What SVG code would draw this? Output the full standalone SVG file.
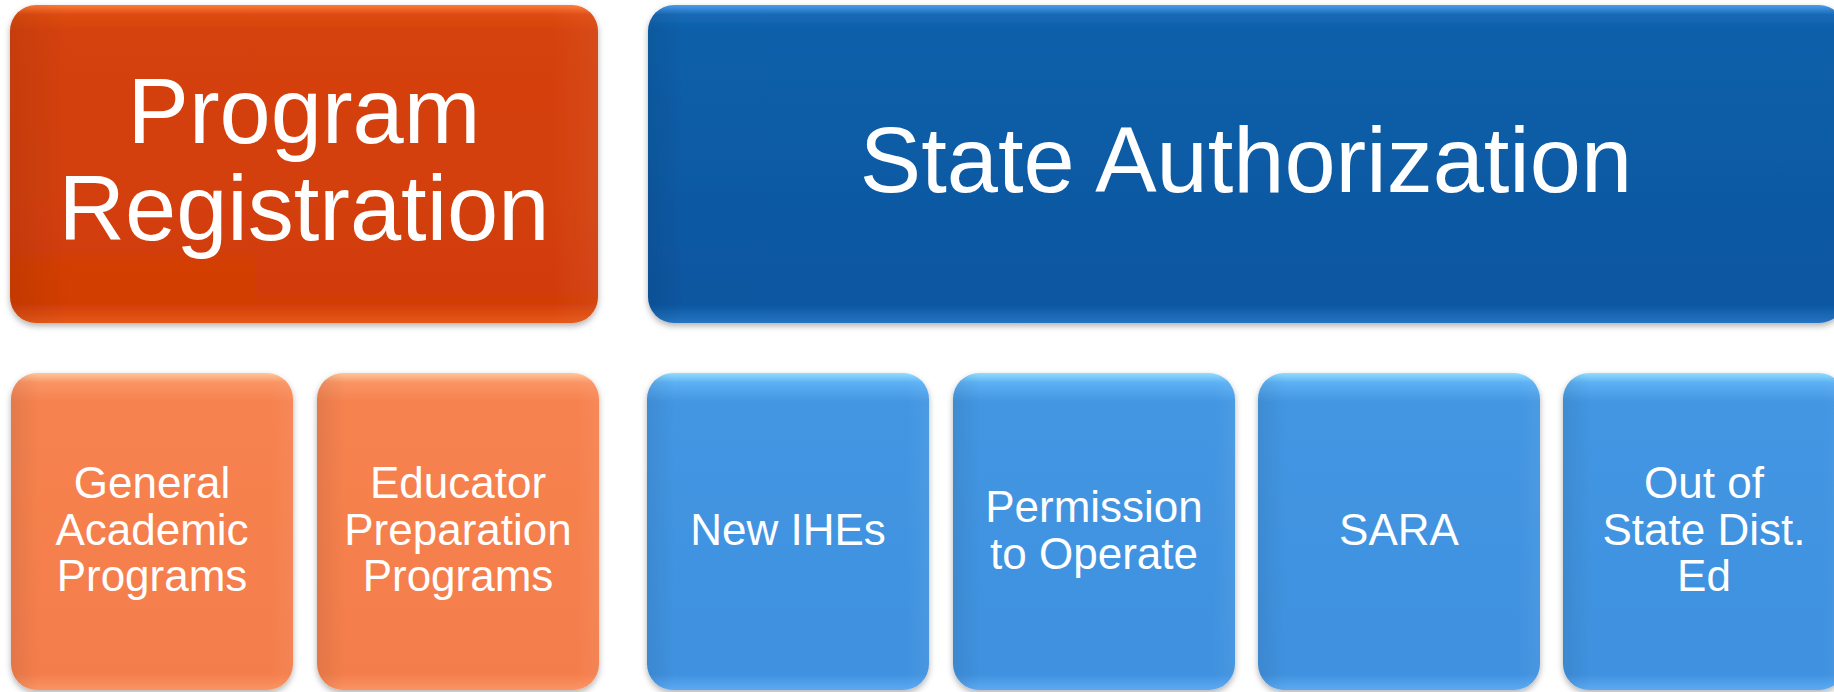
<svg xmlns="http://www.w3.org/2000/svg" width="1834" height="692" viewBox="0 0 1834 692">
  <defs>
    <linearGradient id="gOrangeDark" x1="0" y1="0" x2="0" y2="1">
      <stop offset="0" stop-color="#FF7A36"/>
      <stop offset="0.03" stop-color="#DE4B12"/>
      <stop offset="0.08" stop-color="#D5420B"/>
      <stop offset="0.94" stop-color="#D23D06"/>
      <stop offset="1" stop-color="#E65818"/>
    </linearGradient>
    <linearGradient id="gBlueDark" x1="0" y1="0" x2="0" y2="1">
      <stop offset="0" stop-color="#4C9EEC"/>
      <stop offset="0.03" stop-color="#1769B6"/>
      <stop offset="0.08" stop-color="#0C5FA9"/>
      <stop offset="0.94" stop-color="#0856A0"/>
      <stop offset="1" stop-color="#2774C2"/>
    </linearGradient>
    <linearGradient id="gOrangeLight" x1="0" y1="0" x2="0" y2="1">
      <stop offset="0" stop-color="#FFC89A"/>
      <stop offset="0.03" stop-color="#FA9464"/>
      <stop offset="0.09" stop-color="#F6824F"/>
      <stop offset="0.95" stop-color="#F47E4C"/>
      <stop offset="1" stop-color="#FA9464"/>
    </linearGradient>
    <linearGradient id="gBlueLight" x1="0" y1="0" x2="0" y2="1">
      <stop offset="0" stop-color="#92DEFF"/>
      <stop offset="0.03" stop-color="#5CB0F4"/>
      <stop offset="0.09" stop-color="#4396E2"/>
      <stop offset="0.95" stop-color="#3F91DF"/>
      <stop offset="1" stop-color="#5CAAF2"/>
    </linearGradient>
    <linearGradient id="gSide" x1="0" y1="0" x2="1" y2="0">
      <stop offset="0" stop-color="#000000" stop-opacity="0.07"/>
      <stop offset="0.1" stop-color="#000000" stop-opacity="0"/>
      <stop offset="0.92" stop-color="#FFFFFF" stop-opacity="0"/>
      <stop offset="1" stop-color="#FFFFFF" stop-opacity="0.05"/>
    </linearGradient>
    <linearGradient id="gSideWide" x1="0" y1="0" x2="1" y2="0">
      <stop offset="0" stop-color="#000000" stop-opacity="0.07"/>
      <stop offset="0.03" stop-color="#000000" stop-opacity="0"/>
      <stop offset="1" stop-color="#000000" stop-opacity="0"/>
    </linearGradient>
    <filter id="shadow" x="-5%" y="-5%" width="110%" height="115%">
      <feDropShadow dx="0" dy="3" stdDeviation="3" flood-color="#000000" flood-opacity="0.3"/>
    </filter>
  </defs>
  <style>
    text { font-family: "Liberation Sans", Arial, Helvetica, sans-serif; fill: #FFFFFF; text-anchor: middle; }
    .big { font-size: 92px; }
    .small { font-size: 44px; }
  </style>

  <g id="program-registration">
    <rect x="10" y="5" width="588" height="318" rx="26" fill="url(#gOrangeDark)" filter="url(#shadow)"/>
    <rect x="10" y="5" width="588" height="318" rx="26" fill="url(#gSide)"/>
    <text class="big" x="304" y="143">Program</text>
    <text class="big" x="304" y="240">Registration</text>
  </g>

  <g id="state-authorization">
    <rect x="648" y="5" width="1197" height="318" rx="26" fill="url(#gBlueDark)" filter="url(#shadow)"/>
    <rect x="648" y="5" width="1197" height="318" rx="26" fill="url(#gSideWide)"/>
    <text class="big" x="1246" y="192">State Authorization</text>
  </g>

  <g id="general-academic">
    <rect x="11" y="373" width="282" height="317" rx="26" fill="url(#gOrangeLight)" filter="url(#shadow)"/>
    <rect x="11" y="373" width="282" height="317" rx="26" fill="url(#gSide)"/>
    <text class="small" x="152" y="498">General</text>
    <text class="small" x="152" y="545">Academic</text>
    <text class="small" x="152" y="591">Programs</text>
  </g>

  <g id="educator-preparation">
    <rect x="317" y="373" width="282" height="317" rx="26" fill="url(#gOrangeLight)" filter="url(#shadow)"/>
    <rect x="317" y="373" width="282" height="317" rx="26" fill="url(#gSide)"/>
    <text class="small" x="458" y="498">Educator</text>
    <text class="small" x="458" y="545">Preparation</text>
    <text class="small" x="458" y="591">Programs</text>
  </g>

  <g id="new-ihes">
    <rect x="647" y="373" width="282" height="317" rx="26" fill="url(#gBlueLight)" filter="url(#shadow)"/>
    <rect x="647" y="373" width="282" height="317" rx="26" fill="url(#gSide)"/>
    <text class="small" x="788" y="545">New IHEs</text>
  </g>

  <g id="permission-to-operate">
    <rect x="953" y="373" width="282" height="317" rx="26" fill="url(#gBlueLight)" filter="url(#shadow)"/>
    <rect x="953" y="373" width="282" height="317" rx="26" fill="url(#gSide)"/>
    <text class="small" x="1094" y="522">Permission</text>
    <text class="small" x="1094" y="569">to Operate</text>
  </g>

  <g id="sara">
    <rect x="1258" y="373" width="282" height="317" rx="26" fill="url(#gBlueLight)" filter="url(#shadow)"/>
    <rect x="1258" y="373" width="282" height="317" rx="26" fill="url(#gSide)"/>
    <text class="small" x="1399" y="545">SARA</text>
  </g>

  <g id="out-of-state">
    <rect x="1563" y="373" width="282" height="317" rx="26" fill="url(#gBlueLight)" filter="url(#shadow)"/>
    <rect x="1563" y="373" width="282" height="317" rx="26" fill="url(#gSide)"/>
    <text class="small" x="1704" y="498">Out of</text>
    <text class="small" x="1704" y="545">State Dist.</text>
    <text class="small" x="1704" y="591">Ed</text>
  </g>

  <g id="connectors"></g>
</svg>
